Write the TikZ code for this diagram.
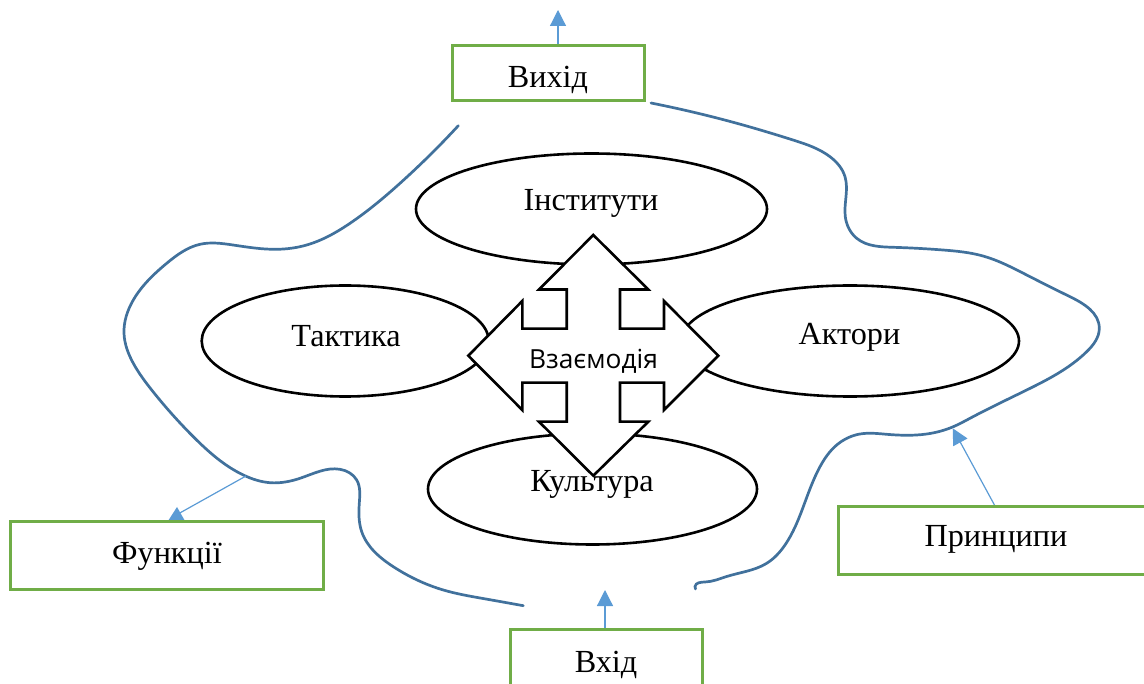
\documentclass[tikz,border=0pt]{standalone}
\usepackage{fontspec}
\setmainfont{Liberation Serif}
\newfontfamily\uifont{Open Sans}
\usetikzlibrary{shapes.geometric,arrows.meta,hobby}
\definecolor{wave}{HTML}{41719C}
\definecolor{link}{HTML}{5B9BD5}
\definecolor{boxgreen}{HTML}{70AD47}
\tikzset{
  oval/.style={draw=black,line width=2.6pt,ellipse,fill=white,inner sep=0pt,outer sep=0pt},
  lab/.style={font=\fontsize{32.2}{36}\selectfont,inner sep=0pt,anchor=center},
  greenbox/.style={draw=boxgreen,line width=3pt,fill=white,inner sep=0pt,outer sep=0pt},
  wavy/.style={draw=wave,line width=2.7pt,line cap=round,use Hobby shortcut},
  linkline/.style={draw=link,line width=1.2pt},
  linkarrow/.style={linkline,-{Triangle[length=16pt,width=16pt,fill=link]}},
}
\begin{document}
\begin{tikzpicture}[x=1pt,y=-1pt]
\useasboundingbox (0,0) rectangle (1144,684);
\clip (0,0) rectangle (1144,684);
% ovals
\node[oval,minimum width=351pt,minimum height=111pt] (inst) at (591.5,209) {};
\node[oval,minimum width=287pt,minimum height=111pt] (takt) at (345.2,341) {};
\node[oval,minimum width=338pt,minimum height=111pt] (akt) at (850,341) {};
\node[oval,minimum width=329pt,minimum height=111pt] (kult) at (592.5,489) {};
% central four-way arrow
\draw[line width=2.6pt,fill=white,line join=miter] (593.3,235) -- (648.3,289.5) -- (620,289.5) -- (620,328.7) -- (664,328.7) -- (664,301) -- (718.3,355.7) -- (664,410) -- (664,382.7) -- (620,382.7) -- (620,421.7) -- (648.3,421.7) -- (593.3,475.7) -- (539,421.7) -- (566.7,421.7) -- (566.7,382.7) -- (522.3,382.7) -- (522.3,410) -- (468.3,355.7) -- (522.3,301) -- (522.3,328.7) -- (566.7,328.7) -- (566.7,289.5) -- (539,289.5) -- cycle;
\node[inner sep=0pt,font=\uifont\fontsize{26.3}{30}\selectfont] (vz) at (593.5,361) {Взаємодія};
\node[lab] (tinst) at (591,203.5) {Інститути};
\node[lab] (ttakt) at (346,336.5) {Тактика};
\node[lab] (takt2) at (849.5,337.5) {Актори};
\node[lab] (tkult) at (592,484.5) {Культура};
% boundary curves
\draw[wavy] (458.3,125.7) .. (400,183.3) .. (350,223.3) .. (306.7,245) .. (276.7,249.3) .. (233,245) .. (200,244.3) .. (166.7,263.3) .. (133.3,300) .. (124,333.3) .. (133.3,363.3) .. (151.7,390) .. (193.3,436.7) .. (243.3,475) .. (270,482.7) .. (300,478.3) .. (340,469.3) .. (356.7,480) .. (359.3,503.3) .. (361.7,531.7) .. (393.3,566.7) .. (443.3,590) .. (483,598.5) .. (523.3,605.7);
\draw[wavy] (651,103) .. (743,125) .. (793,140) .. (830,156.7) .. (845,176.7) .. (846,196.7) .. (845.3,216.7) .. (856.7,238.3) .. (893,247.3) .. (943,250) .. (983,256) .. (1026.7,275) .. (1070,296.7) .. (1099.3,328.3) .. (1086.7,351.7) .. (1026.7,390) .. (970,418.3) .. (953.3,426.7) .. (926.7,434) .. (886.7,434.3) .. (860,434) .. (836.7,445) .. (820,466.7) .. (803.3,506.7) .. (785,545) .. (766.7,563.3) .. (726.7,576.5) .. (705,582) .. (695,586.5) .. (695.5,589);
% link endpoints
\coordinate (outtip) at (558,10);
\coordinate (intip) at (605,590);
\coordinate (prtip) at (952.7,428.3);
\coordinate (fstart) at (246,476);
\coordinate (fend) at (178,514);
\coordinate (ftipa) at (177,507);
\coordinate (ftipb) at (168,521);
\coordinate (ftipc) at (185,521);
\coordinate (outbase) at (558,45);
\coordinate (inbase) at (605,629);
\coordinate (prbase) at (995,506);
% links
\draw[linkarrow] (outbase) -- (outtip);
\draw[linkarrow] (inbase) -- (intip);
\draw[linkarrow] (prbase) -- (prtip);
\draw[linkline] (fstart) -- (fend);
\fill[link] (ftipa) -- (ftipb) -- (ftipc) -- cycle;
% boxes
\node[greenbox,minimum width=192pt,minimum height=55pt] (out) at (548.5,73.5) {};
\node[greenbox,minimum width=313pt,minimum height=68pt] (func) at (167,555.5) {};
\node[greenbox,minimum width=320pt,minimum height=67pt] (prin) at (998,540.5) {};
\node[greenbox,minimum width=192pt,minimum height=80pt] (inp) at (606.5,669.5) {};
\node[lab] (tout) at (548,80) {Вихід};
\node[lab] (tfunc) at (167,556.5) {Функції};
\node[lab] (tprin) at (996,539.5) {Принципи};
\node[lab] (tinp) at (606,664.5) {Вхід};
\end{tikzpicture}
\end{document}
